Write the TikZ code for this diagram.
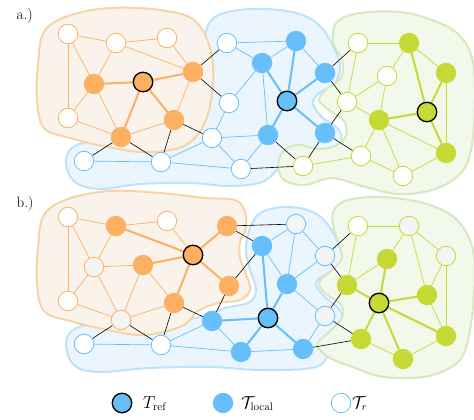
\documentclass[tikz,border=0pt]{standalone}
\usepackage{amsmath}
\pgfdeclarelayer{regions}
\pgfdeclarelayer{edges}
\pgfsetlayers{regions,edges,main}
\begin{document}
\begin{tikzpicture}[x=1pt,y=-1pt]
% palette
\definecolor{ocol}{HTML}{FDAF62}
\definecolor{bcol}{HTML}{66BFFA}
\definecolor{gcol}{HTML}{C6D934}
\definecolor{ofill}{HTML}{FAF3EC}
\definecolor{bfill}{HTML}{EBF5FD}
\definecolor{gfill}{HTML}{F2F8EA}
\definecolor{oline}{HTML}{F6D4A6}
\definecolor{bline}{HTML}{BFE1FA}
\definecolor{gline}{HTML}{D5E8BE}
\definecolor{pale}{HTML}{F4F4F4}
\tikzset{
  region/.style={line width=2pt},
  oreg/.style={region, draw=oline, fill=ofill},
  breg/.style={region, draw=bline, fill=bfill},
  greg/.style={region, draw=gline, fill=gfill},
  vtx/.style={circle, minimum size=19.5pt, inner sep=0pt, line width=0.8pt},
  % vertices: white, filled, pale, reference
  ow/.style={vtx, draw=ocol, fill=white},
  of/.style={vtx, draw=ocol, fill=ocol},
  og/.style={vtx, draw=ocol, fill=pale},
  oref/.style={vtx, draw=black, fill=ocol, line width=1.3pt},
  bw/.style={vtx, draw=bcol, fill=white},
  bf/.style={vtx, draw=bcol, fill=bcol},
  bg/.style={vtx, draw=bcol, fill=pale},
  bref/.style={vtx, draw=black, fill=bcol, line width=1.3pt},
  gw/.style={vtx, draw=gcol, fill=white},
  gf/.style={vtx, draw=gcol, fill=gcol},
  gg/.style={vtx, draw=gcol, fill=pale},
  gref/.style={vtx, draw=black, fill=gcol, line width=1.3pt},
  % edges
  eo/.style={draw=ocol, line width=0.7pt},
  eO/.style={draw=ocol, line width=2pt},
  eb/.style={draw=bcol, line width=0.7pt},
  eB/.style={draw=bcol, line width=2pt},
  eg/.style={draw=gcol, line width=0.7pt},
  eG/.style={draw=gcol, line width=2pt},
  ex/.style={draw=black, line width=0.6pt},
  lbl/.style={font=\fontsize{15}{17}\selectfont, anchor=base west, inner sep=0pt},
  leg/.style={font=\fontsize{16}{18}\selectfont, anchor=base west, inner sep=0pt},
}
\newcommand\vx[4]{\node[#4] (#1) at (#2,#3) {};}
\newcommand\ed[3]{\begin{pgfonlayer}{edges}\draw[#1] (#2) -- (#3);\end{pgfonlayer}}

\useasboundingbox (0,0) rectangle (474,420);

% ================= panel a =================
\begin{pgfonlayer}{regions}
\draw[breg] plot[smooth cycle, tension=0.6] coordinates {
 (66,163) (72,148) (95,141) (140,142) (185,138) (205,118) (210,80) (205,40)
 (215,17) (250,9) (292,12) (318,24) (334,48) (340,68) (334,84) (318,94)
 (313,104) (322,117) (339,130) (340,146) (322,152) (300,145) (284,151)
 (278,168) (262,182) (230,186) (190,183) (140,184) (100,189) (75,182)};
\draw[greg] plot[smooth cycle, tension=0.6] coordinates {
 (278,165) (284,151) (298,145) (318,149) (335,146) (346,136) (344,121)
 (329,110) (319,100) (327,89) (341,78) (342,60) (333,42) (337,22) (360,13)
 (400,12) (432,20) (458,34) (472,58) (475,100) (471,150) (459,175)
 (432,190) (398,194) (362,186) (332,178) (305,185) (284,180)};
\draw[oreg] plot[smooth cycle, tension=0.6] coordinates {
 (38,65) (44,32) (68,16) (110,8) (160,10) (194,20) (210,48) (213,84)
 (205,122) (184,146) (145,152) (108,147) (70,138) (44,128) (37,100)};
\end{pgfonlayer}

\node[lbl] (labA) at (16.5,20) {a.)};

\vx{aO1}{68}{34}{ow} \vx{aO2}{116}{43}{ow} \vx{aO3}{167}{38}{ow}
\vx{aO4}{94}{84}{of} \vx{aO5}{143}{82}{oref} \vx{aO6}{68}{118}{ow}
\vx{aO7}{121}{137}{of} \vx{aO8}{193}{72}{of} \vx{aO9}{174}{120}{of}
\vx{aB1}{84}{161}{bw} \vx{aB2}{161}{162}{bw} \vx{aB3}{227}{43}{bw}
\vx{aB4}{229}{103}{bw} \vx{aB5}{212}{138}{bw} \vx{aB6}{241}{169}{bw}
\vx{aB7}{262}{63}{bf} \vx{aB8}{296}{41}{bf} \vx{aB9}{287}{101}{bref}
\vx{aB10}{268}{135}{bf} \vx{aB11}{325}{73}{bf} \vx{aB12}{325}{133}{bf}
\vx{aG1}{303}{166}{gw} \vx{aG2}{358}{43}{gw} \vx{aG3}{347}{102}{gw}
\vx{aG4}{387}{76}{gw} \vx{aG5}{409}{43}{gf} \vx{aG6}{446}{73}{gf}
\vx{aG7}{427}{112}{gref} \vx{aG8}{379}{120}{gf} \vx{aG9}{446}{153}{gf}
\vx{aG10}{361}{156}{gw} \vx{aG11}{403}{176}{gw}

\ed{eo}{aO1}{aO2} \ed{eo}{aO1}{aO6} \ed{eo}{aO1}{aO4} \ed{eo}{aO2}{aO3}
\ed{eo}{aO2}{aO4} \ed{eo}{aO2}{aO8} \ed{eo}{aO3}{aO8} \ed{eO}{aO4}{aO5}
\ed{eo}{aO4}{aO6} \ed{eo}{aO4}{aO7} \ed{eO}{aO5}{aO7} \ed{eO}{aO5}{aO8}
\ed{eO}{aO5}{aO9} \ed{eo}{aO6}{aO7} \ed{eo}{aO7}{aO9} \ed{eo}{aO8}{aO9}
\ed{ex}{aO7}{aB1} \ed{ex}{aO7}{aB2} \ed{ex}{aO9}{aB2} \ed{ex}{aO9}{aB5}
\ed{ex}{aO8}{aB3} \ed{ex}{aO8}{aB4}
\ed{eb}{aB1}{aB2} \ed{eb}{aB2}{aB5} \ed{eb}{aB2}{aB6} \ed{eb}{aB3}{aB7}
\ed{eb}{aB3}{aB8} \ed{eb}{aB4}{aB7} \ed{eb}{aB4}{aB5} \ed{eb}{aB5}{aB10}
\ed{eb}{aB5}{aB6} \ed{eb}{aB6}{aB10} \ed{eb}{aB7}{aB8} \ed{eb}{aB7}{aB10}
\ed{eB}{aB7}{aB9} \ed{eB}{aB8}{aB9} \ed{eb}{aB8}{aB11} \ed{eB}{aB9}{aB10}
\ed{eB}{aB9}{aB11} \ed{eB}{aB9}{aB12}
\ed{ex}{aB10}{aG1} \ed{ex}{aB6}{aG1} \ed{ex}{aB11}{aG2} \ed{ex}{aB11}{aG3}
\ed{ex}{aB12}{aG3} \ed{ex}{aB12}{aG10} \ed{ex}{aB12}{aG1}
\ed{eg}{aG1}{aG10} \ed{eg}{aG2}{aG3} \ed{eg}{aG2}{aG5} \ed{eg}{aG3}{aG4}
\ed{eg}{aG3}{aG8} \ed{eg}{aG4}{aG5} \ed{eg}{aG4}{aG8} \ed{eg}{aG5}{aG6}
\ed{eG}{aG5}{aG7} \ed{eG}{aG6}{aG7} \ed{eg}{aG6}{aG9} \ed{eG}{aG7}{aG8}
\ed{eG}{aG7}{aG9} \ed{eg}{aG8}{aG9} \ed{eg}{aG8}{aG10} \ed{eg}{aG8}{aG11}
\ed{eg}{aG10}{aG11} \ed{eg}{aG9}{aG11}

% ================= panel b =================
\begin{scope}[yshift=-183pt]
\begin{pgfonlayer}{regions}
\draw[breg] plot[smooth cycle, tension=0.6] coordinates {
 (66,163) (72,148) (95,141) (150,143) (195,135) (225,125) (250,119) (256,105)
 (250,87) (246,67) (250,45) (262,29) (290,24) (318,32) (336,55) (342,79)
 (328,90) (316,100) (324,113) (340,127) (342,145) (330,159) (327,174)
 (312,185) (260,187) (210,184) (150,185) (100,189) (75,183)};
\draw[greg] plot[smooth cycle, tension=0.6] coordinates {
 (333,42) (334,27) (348,17) (383,14) (427,21) (457,37) (473,67) (474,112)
 (468,157) (458,179) (433,192) (405,195) (378,193) (350,183) (330,175)
 (317,162) (328,150) (342,135) (341,122) (325,110) (319,99) (331,88)
 (342,75) (338,59)};
\draw[oreg] plot[smooth cycle, tension=0.6] coordinates {
 (38,65) (44,32) (68,16) (110,8) (160,10) (205,15) (235,17) (245,29)
 (246,45) (240,59) (240,75) (246,91) (250,107) (240,117) (218,120)
 (198,128) (182,143) (145,152) (108,147) (70,138) (44,128) (37,100)};
\end{pgfonlayer}

\node[lbl] (labB) at (16.5,24) {b.)};

\vx{bO1}{68}{34}{ow} \vx{bO2}{116}{43}{of} \vx{bO3}{167}{38}{ow}
\vx{bO4}{94}{84}{og} \vx{bO5}{143}{82}{of} \vx{bO6}{68}{118}{ow}
\vx{bO7}{121}{137}{og} \vx{bO8}{193}{72}{oref} \vx{bO9}{174}{120}{of}
\vx{bB1}{84}{161}{bw} \vx{bB2}{161}{162}{bw} \vx{bB3}{227}{43}{of}
\vx{bB4}{229}{103}{of} \vx{bB5}{212}{138}{bf} \vx{bB6}{241}{169}{bf}
\vx{bB7}{262}{63}{bf} \vx{bB8}{296}{41}{bg} \vx{bB9}{287}{101}{bf}
\vx{bB10}{268}{135}{bref} \vx{bB11}{325}{73}{bg} \vx{bB12}{325}{133}{bg}
\vx{bG1}{303}{166}{bf} \vx{bG2}{358}{43}{gw} \vx{bG3}{347}{102}{gf}
\vx{bG4}{387}{76}{gf} \vx{bG5}{409}{43}{gg} \vx{bG6}{446}{73}{gg}
\vx{bG7}{427}{112}{gf} \vx{bG8}{379}{120}{gref} \vx{bG9}{446}{153}{gf}
\vx{bG10}{361}{156}{gf} \vx{bG11}{403}{176}{gf}

\ed{eo}{bO1}{bO2} \ed{eo}{bO1}{bO6} \ed{eo}{bO1}{bO4} \ed{eo}{bO2}{bO3}
\ed{eo}{bO2}{bO4} \ed{eO}{bO2}{bO8} \ed{eo}{bO3}{bO8} \ed{eo}{bO4}{bO5}
\ed{eo}{bO4}{bO6} \ed{eo}{bO4}{bO7} \ed{eo}{bO5}{bO7} \ed{eO}{bO5}{bO8}
\ed{eo}{bO5}{bO9} \ed{eo}{bO6}{bO7} \ed{eo}{bO7}{bO9} \ed{eO}{bO8}{bO9}
\ed{ex}{bO7}{bB1} \ed{ex}{bO7}{bB2} \ed{ex}{bO9}{bB2} \ed{ex}{bO9}{bB5}
\ed{eO}{bO8}{bB3} \ed{eO}{bO8}{bB4}
\ed{eb}{bB1}{bB2} \ed{eb}{bB2}{bB5} \ed{eb}{bB2}{bB6} \ed{ex}{bB3}{bB7}
\ed{ex}{bB3}{bB8} \ed{ex}{bB4}{bB7} \ed{ex}{bB4}{bB5} \ed{eB}{bB5}{bB10}
\ed{eb}{bB5}{bB6} \ed{eB}{bB6}{bB10} \ed{eb}{bB7}{bB8} \ed{eB}{bB7}{bB10}
\ed{eb}{bB7}{bB9} \ed{eb}{bB8}{bB9} \ed{eb}{bB8}{bB11} \ed{eB}{bB9}{bB10}
\ed{eb}{bB9}{bB11} \ed{eb}{bB9}{bB12}
\ed{eB}{bB10}{bG1} \ed{eb}{bB6}{bG1} \ed{ex}{bB11}{bG2} \ed{ex}{bB11}{bG3}
\ed{ex}{bB12}{bG3} \ed{ex}{bB12}{bG10} \ed{eb}{bB12}{bG1}
\ed{ex}{bG1}{bG10} \ed{eg}{bG2}{bG3} \ed{eg}{bG2}{bG5} \ed{eg}{bG3}{bG4}
\ed{eG}{bG3}{bG8} \ed{eg}{bG4}{bG5} \ed{eG}{bG4}{bG8} \ed{eg}{bG5}{bG6}
\ed{eg}{bG5}{bG7} \ed{eg}{bG6}{bG7} \ed{eg}{bG6}{bG9} \ed{eG}{bG7}{bG8}
\ed{eg}{bG7}{bG9} \ed{eG}{bG8}{bG9} \ed{eG}{bG8}{bG10} \ed{eG}{bG8}{bG11}
\ed{eg}{bG10}{bG11} \ed{eg}{bG9}{bG11}
\end{scope}

% ================= legend =================
\node[bref] (kRef) at (122,403) {};
\node[leg] (tRef) at (143,408) {$T_{\mathrm{ref}}$};
\node[bf] (kLoc) at (223,403) {};
\node[leg] (tLoc) at (241,408) {$\mathcal{T}_{\mathrm{local}}$};
\node[bw] (kR) at (341,403) {};
\node[leg] (tR) at (352,408) {$\mathcal{T}_{r}$};
\end{tikzpicture}
\end{document}
